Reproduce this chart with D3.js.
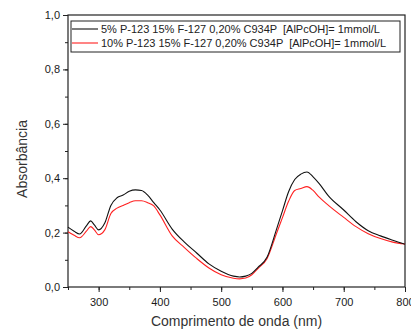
<!DOCTYPE html>
<html>
<head>
<meta charset="utf-8">
<script src="https://cdn.jsdelivr.net/npm/d3@7"></script>
<style>
  body { margin: 0; background: #fff; }
  text { font-family: "Liberation Sans", Arial, sans-serif; }
</style>
</head>
<body>
<div id="chart"></div>
<script>
// wavelength grid (nm)
var wavelengths = [250, 260, 269, 280, 287, 293, 300, 310, 320, 330, 340, 350, 360, 370, 380, 390, 400, 420, 440, 460, 480, 500, 520, 530, 540, 550, 560, 575, 590, 600, 610, 620, 630, 640, 650, 660, 675, 700, 720, 740, 760, 780, 800];
// 5% P-123
var absBlack = [0.22, 0.205, 0.195, 0.225, 0.243, 0.228, 0.21, 0.235, 0.3, 0.328, 0.338, 0.352, 0.357, 0.355, 0.338, 0.31, 0.283, 0.213, 0.165, 0.125, 0.085, 0.058, 0.04, 0.037, 0.04, 0.05, 0.072, 0.11, 0.21, 0.28, 0.35, 0.395, 0.415, 0.423, 0.405, 0.38, 0.335, 0.283, 0.24, 0.207, 0.188, 0.172, 0.157];
// 10% P-123
var absRed = [0.203, 0.19, 0.181, 0.205, 0.222, 0.21, 0.192, 0.21, 0.27, 0.29, 0.3, 0.31, 0.317, 0.317, 0.31, 0.298, 0.265, 0.188, 0.145, 0.105, 0.07, 0.045, 0.032, 0.03, 0.033, 0.045, 0.068, 0.105, 0.195, 0.255, 0.315, 0.355, 0.362, 0.369, 0.355, 0.33, 0.3, 0.256, 0.222, 0.196, 0.178, 0.165, 0.158];
var legendLabels = [
  "5% P-123 15% F-127 0,20% C934P  [AlPcOH]= 1mmol/L",
  "10% P-123 15% F-127 0,20% C934P  [AlPcOH]= 1mmol/L"
];
var xTicks = [300, 400, 500, 600, 700, 800];
var yTicks = [0, 0.2, 0.4, 0.6, 0.8, 1.0];

var svgWidth = 411, svgHeight = 329;
var margin = { top: 15, right: 6, bottom: 42, left: 68 };
var width = svgWidth - margin.left - margin.right;
var height = svgHeight - margin.top - margin.bottom;

var svg = d3.select("#chart").append("svg")
  .attr("width", svgWidth)
  .attr("height", svgHeight);

var chartGroup = svg.append("g")
  .attr("transform", `translate(${margin.left}, ${margin.top})`);

var x = d3.scaleLinear().domain([250, 800]).range([0, width]);
var y = d3.scaleLinear().domain([0, 1]).range([height, 0]);

var fmt = function(d) { return d3.format(".1f")(d).replace(".", ","); };

// minor ticks
chartGroup.append("g")
  .attr("transform", `translate(0, ${height})`)
  .call(d3.axisBottom(x).tickValues(d3.range(250, 801, 50)).tickSize(3).tickFormat(""))
  .call(g => g.select(".domain").remove());
chartGroup.append("g")
  .call(d3.axisLeft(y).tickValues(d3.range(0, 1.01, 0.1)).tickSize(3).tickFormat(""))
  .call(g => g.select(".domain").remove());

// major axes
var xAxis = chartGroup.append("g")
  .attr("transform", `translate(0, ${height})`)
  .call(d3.axisBottom(x).tickValues(xTicks).tickSize(5).tickPadding(6));
var yAxis = chartGroup.append("g")
  .call(d3.axisLeft(y).tickValues(yTicks).tickSize(5).tickPadding(3).tickFormat(fmt));

[xAxis, yAxis].forEach(function(g) {
  g.select(".domain").remove();
  g.selectAll("text").attr("font-size", "11px").attr("fill", "#1a1a1a")
    .attr("font-family", "Liberation Sans, Arial, sans-serif");
});
chartGroup.selectAll(".tick line").attr("stroke", "#222");

// frame
chartGroup.append("rect")
  .attr("width", width)
  .attr("height", height)
  .attr("fill", "none")
  .attr("stroke", "#222")
  .attr("stroke-width", 1.2);

var line = d3.line()
  .x((d, i) => x(wavelengths[i]))
  .y(d => y(d))
  .curve(d3.curveMonotoneX);

chartGroup.append("path")
  .datum(absRed)
  .attr("d", line)
  .attr("fill", "none")
  .attr("stroke", "#ff2020")
  .attr("stroke-width", 1.1);

chartGroup.append("path")
  .datum(absBlack)
  .attr("d", line)
  .attr("fill", "none")
  .attr("stroke", "#111")
  .attr("stroke-width", 1.1);

// legend
var legend = chartGroup.append("g").attr("transform", "translate(3, 6)");
legend.append("rect")
  .attr("width", 329)
  .attr("height", 31)
  .attr("fill", "#fff")
  .attr("stroke", "#222")
  .attr("stroke-width", 1);
var legendColors = ["#111", "#ff2020"];
legendLabels.forEach(function(label, i) {
  var ly = 8 + i * 14;
  legend.append("line")
    .attr("x1", 1).attr("x2", 27)
    .attr("y1", ly).attr("y2", ly)
    .attr("stroke", legendColors[i])
    .attr("stroke-width", 1.1);
  legend.append("text")
    .attr("x", 30).attr("y", ly + 4)
    .attr("font-size", "11px")
    .attr("fill", "#222")
    .style("white-space", "pre")
    .text(label);
});

// axis labels
chartGroup.append("text")
  .attr("transform", "rotate(-90)")
  .attr("x", -(height / 2) - 8)
  .attr("y", -41)
  .attr("text-anchor", "middle")
  .attr("font-size", "14px")
  .attr("fill", "#333")
  .text("Absorbância");

chartGroup.append("text")
  .attr("x", width / 2)
  .attr("y", height + 39)
  .attr("text-anchor", "middle")
  .attr("font-size", "14px")
  .attr("fill", "#333")
  .text("Comprimento de onda (nm)");
</script>
</body>
</html>
